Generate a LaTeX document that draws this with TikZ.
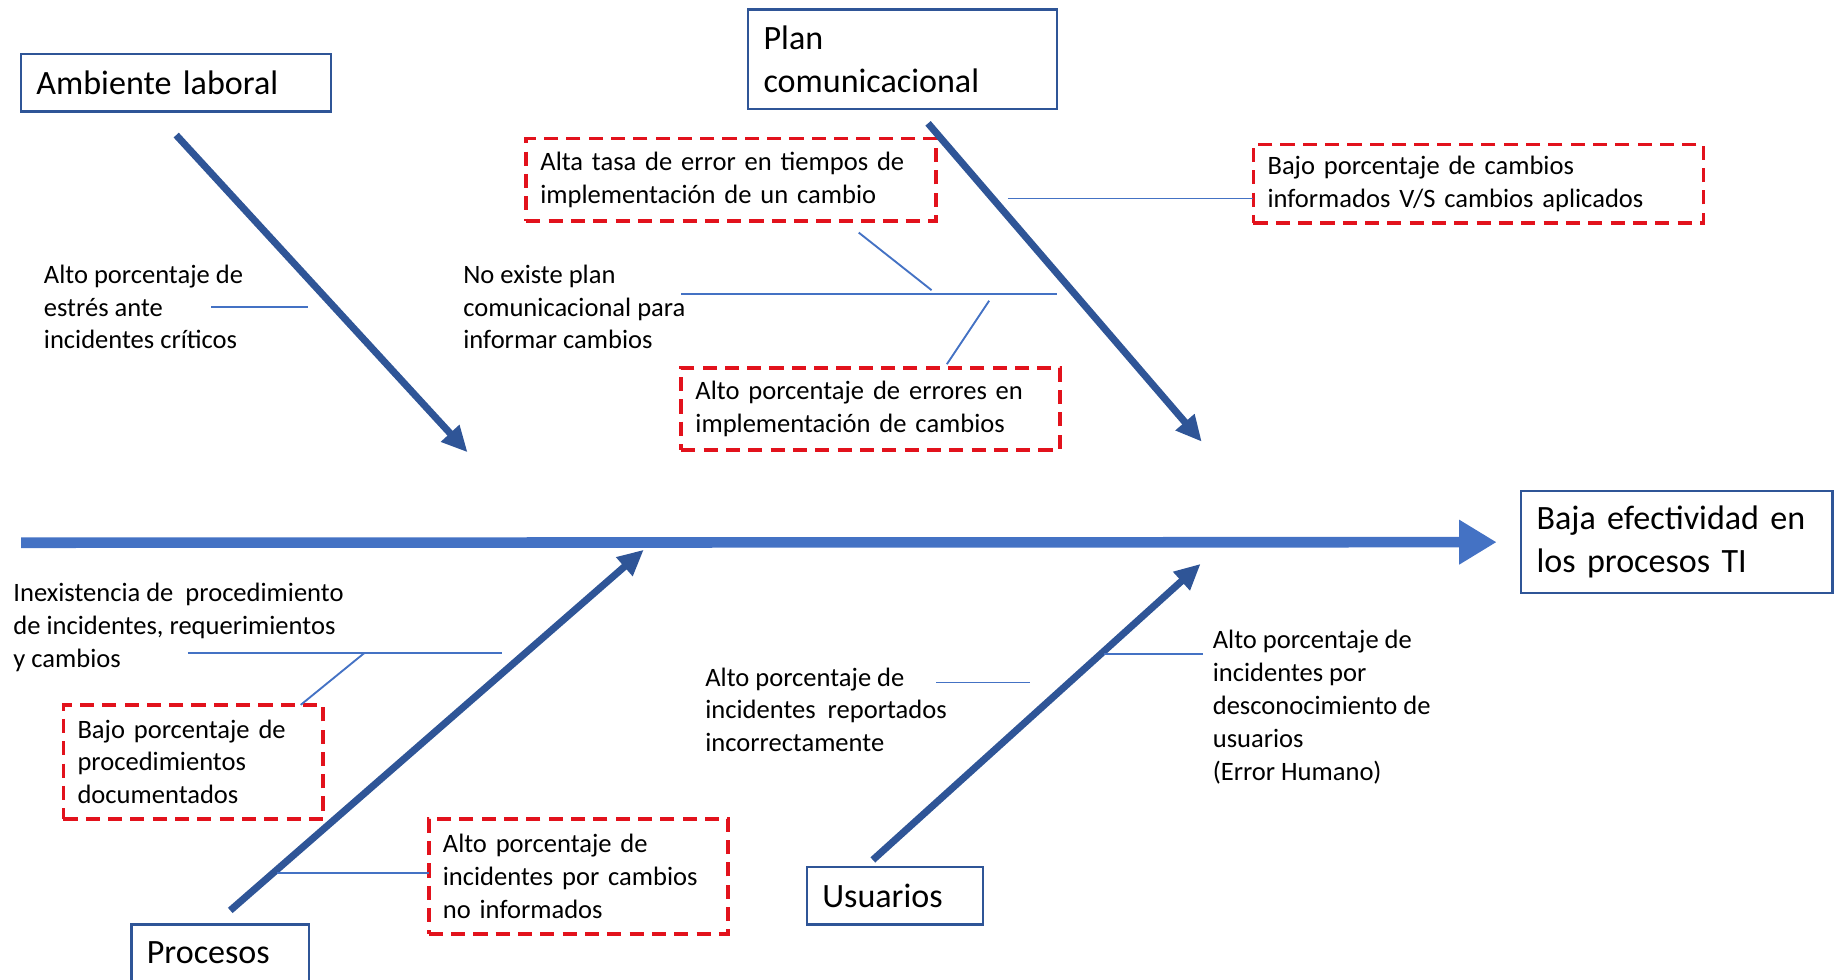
\documentclass[tikz,border=0pt]{standalone}
\usepackage{fontspec}
\setmainfont{Carlito}
\usepackage{tikz}
\usetikzlibrary{arrows.meta,positioning}
\definecolor{boxblue}{RGB}{47,85,151}
\definecolor{spineblue}{RGB}{68,114,196}
\definecolor{causered}{RGB}{226,18,28}

\begin{document}
\begin{tikzpicture}[x=0.5pt,y=-0.5pt]
\tikzset{catnode/.style={draw=boxblue,line width=1pt,inner xsep=6.5pt,inner ysep=0pt,align=left,font=\fontsize{14.5pt}{18.5pt}\selectfont},
causenode/.style={draw=causered,line width=1.6pt,dash pattern=on 6pt off 3.5pt,inner xsep=6pt,inner ysep=0pt,align=left,font=\fontsize{11.3pt}{14pt}\selectfont},
causelabel/.style={inner sep=0pt,align=left,anchor=base west,font=\fontsize{11.3pt}{14pt}\selectfont},
spine/.style={line width=4.5pt,spineblue,-{Triangle[length=16pt,width=18pt]}},
bone/.style={line width=3pt,boxblue,-{Triangle[length=11pt,width=10pt]}},
twig/.style={line width=0.8pt,spineblue}}

\useasboundingbox (0,0) rectangle (1568,834);

%% Categories and effect
\node (amb) [catnode,text width=119pt,minimum height=24.5pt] at (150,70.5) {Ambiente laboral};
\node (plan) [catnode,text width=118.5pt,minimum height=42.5pt] at (768.5,50.5) {Plan\\comunicacional};
\node (eff) [catnode,text width=119.5pt,minimum height=43.5pt] at (1427.5,461.5) {Baja efectividad en\\los procesos TI};
\node (proc) [catnode,text width=62.5pt,minimum height=24pt] at (187.5,811) {Procesos};
\node (usr) [catnode,text width=62pt,minimum height=24.5pt] at (762,762.5) {Usuarios};

%% Causes (dashed)
\node (c1) [causenode,text width=162.5pt,minimum height=35pt] at (622.5,153) {Alta tasa de error en tiempos de\\implementación de un cambio};
\node (c2) [causenode,text width=149pt,minimum height=35pt] at (741,348) {Alto porcentaje de errores en\\implementación de cambios};
\node (c3) [causenode,text width=179.5pt,minimum height=33.5pt] at (1258.5,156.5) {Bajo porcentaje de cambios\\informados V/S cambios aplicados};
\node (c4) [causenode,text width=98.5pt,minimum height=48.5pt] at (164.5,648.5) {Bajo porcentaje de\\procedimientos\\documentados};
\node (c5) [causenode,text width=115.5pt,minimum height=49pt] at (492.5,746) {Alto porcentaje de\\incidentes por cambios\\no informados};

%% Causes (plain), placed by the baseline of their last line
\node (l1) [causelabel] at (37,297) {Alto porcentaje de\\estrés ante\\incidentes críticos};
\node (l2) [causelabel] at (394,297) {No existe plan\\comunicacional para\\informar cambios};
\node (l3) [causelabel] at (11,568) {Inexistencia de~ procedimiento\\de incidentes, requerimientos\\y cambios};
\node (l4) [causelabel] at (600,640) {Alto porcentaje de\\incidentes~ reportados\\incorrectamente};
\node (l5) [causelabel] at (1032,664) {Alto porcentaje de\\incidentes por\\desconocimiento de\\usuarios\\(Error Humano)};

%% Bone ends
\coordinate (s0) at (18,462);
\coordinate (b0) at (150,115);
\coordinate (b0t) at (398,385);
\coordinate (b1) at (790,105);
\coordinate (b1t) at (1023,376);
\coordinate (b2) at (196,775);
\coordinate (b2t) at (548,468);
\coordinate (b3) at (743,732);
\coordinate (b3t) at (1022,480);

%% Twig ends
\coordinate (t1a) at (180,261);  \coordinate (t1b) at (262,261);
\coordinate (t2a) at (580,250);  \coordinate (t2b) at (900,250);
\coordinate (t3a) at (731,198);  \coordinate (t3b) at (793,247);
\coordinate (t4a) at (842,256);  \coordinate (t4b) at (806,310);
\coordinate (t5a) at (858,169);  \coordinate (t5b) at (1067,169);
\coordinate (t6a) at (160,556);  \coordinate (t6b) at (427,556);
\coordinate (t7a) at (310,556);  \coordinate (t7b) at (256,600);
\coordinate (t8a) at (236,743);  \coordinate (t8b) at (365,743);
\coordinate (t9a) at (797,581);  \coordinate (t9b) at (877,581);
\coordinate (t10a) at (940,557); \coordinate (t10b) at (1024,557);

%% Edges
\draw[spine,shorten >=10pt] (s0) -- (eff.west);
\foreach \u/\v in {b0/b0t, b1/b1t, b2/b2t, b3/b3t} \draw[bone] (\u) -- (\v);
\foreach \u/\v in {t1a/t1b, t2a/t2b, t3a/t3b, t4a/t4b, t5a/t5b, t6a/t6b, t7a/t7b, t8a/t8b, t9a/t9b, t10a/t10b} \draw[twig] (\u) -- (\v);

\end{tikzpicture}
\end{document}
